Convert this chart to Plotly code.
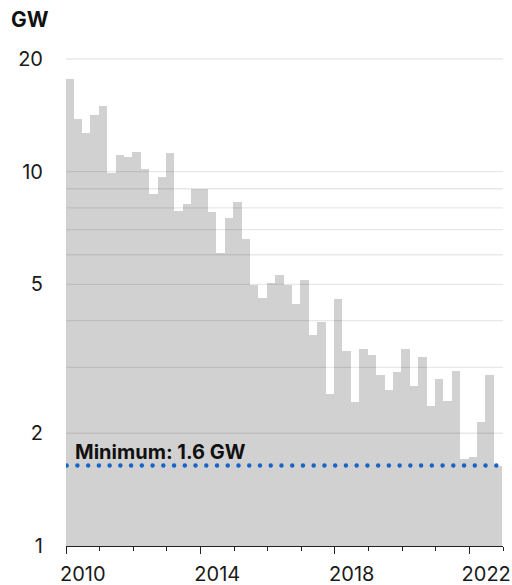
import numpy as np
import plotly.graph_objects as go

# Quarterly capacity, GW (log scale)
quarters = [f"{y} Q{q}" for y in range(2010, 2023) for q in range(1, 5)]
capacity_gw = [
    17.72, 13.83, 12.69, 14.21, 14.98, 9.90, 11.06, 10.93,
    11.27, 10.15, 8.74, 9.66, 11.22, 7.84, 8.22, 8.99,
    8.99, 7.79, 6.07, 7.54, 8.29, 6.61, 4.99, 4.60,
    5.03, 5.30, 4.97, 4.44, 5.15, 3.67, 3.96, 2.55,
    4.57, 3.32, 2.42, 3.36, 3.24, 2.86, 2.61, 2.92,
    3.36, 2.68, 3.20, 2.37, 2.80, 2.44, 2.94, 1.71,
    1.73, 2.15, 2.87, 1.64,
]
y_tick_vals = [1, 2, 5, 10, 20]
grid_vals = [2, 3, 4, 5, 6, 7, 8, 9, 10, 20]
year_labels = [2010, 2014, 2018, 2022]

FONT = "Inter"
BAR = "#d1d1d1"
BLUE = "#1763c6"
TXT = "#1a1a1a"

# numeric time position of each quarter's bar
def quarter_pos(label):
    yr, q = label.split(" Q")
    return int(yr) + (int(q) - 1) * 0.25 + 0.1

x_pos = [quarter_pos(q) for q in quarters]
min_val = min(capacity_gw)

fig = go.Figure()

fig.add_trace(go.Bar(
    x=x_pos, y=capacity_gw, width=0.25,
    marker=dict(color=BAR, line=dict(width=0)),
    hovertext=quarters, showlegend=False,
))

# horizontal guide lines drawn over the bars
gx, gy = [], []
for v in grid_vals:
    gx += [2010, 2023, None]
    gy += [v, v, None]
fig.add_trace(go.Scatter(
    x=gx, y=gy, mode="lines",
    line=dict(color="rgba(0,0,0,0.09)", width=1.4),
    hoverinfo="skip", showlegend=False,
))

# dotted minimum line
dot_x = np.linspace(2010.02, 2022.8, 41)
fig.add_trace(go.Scatter(
    x=dot_x, y=[min_val] * len(dot_x), mode="markers",
    marker=dict(color=BLUE, size=4.4, line=dict(width=0)),
    hoverinfo="skip", showlegend=False,
))

# year labels sit mid-year on an overlaid axis
fig.add_trace(go.Scatter(x=[2010, 2023], y=[1, 1], xaxis="x2", mode="none",
                         hoverinfo="skip", showlegend=False))

fig.add_annotation(
    x=2010.2, y=np.log10(min_val), xref="x", yref="y",
    text=f"<b>Minimum: {min_val:.1f} GW</b>", showarrow=False,
    xanchor="left", yanchor="bottom", yshift=0,
    font=dict(family=FONT, size=20, color="#111111"),
)
fig.add_annotation(
    x=-0.130, y=1.063, xref="paper", yref="paper",
    text="<b>GW</b>", showarrow=False, xanchor="left", yanchor="middle",
    font=dict(family=FONT, size=21, color="#111111"),
)

fig.update_layout(
    width=512, height=585,
    margin=dict(l=66, r=9, t=51, b=39),
    paper_bgcolor="white", plot_bgcolor="white",
    bargap=0,
    font=dict(family=FONT, size=20, color=TXT),
    xaxis=dict(
        range=[2010, 2023], showgrid=False, zeroline=False, automargin=False,
        tickmode="array", tickvals=year_labels, showticklabels=False,
        ticks="outside", ticklen=7, tickwidth=1.3, tickcolor="#222222",
        showline=True, linecolor="#222222", linewidth=1.3,
        minor=dict(dtick=1, tick0=2010, ticks="outside", ticklen=4,
                   tickwidth=1.3, tickcolor="#222222", showgrid=False),
    ),
    xaxis2=dict(
        overlaying="x", matches="x", side="bottom", anchor="y", automargin=False,
        range=[2010, 2023], showgrid=False, zeroline=False, showline=False,
        tickmode="array", tickvals=[y + 0.5 for y in year_labels],
        ticktext=[str(y) for y in year_labels], ticks="",
        ticklabelstandoff=14,
        tickfont=dict(family=FONT, size=20, color=TXT),
    ),
    yaxis=dict(
        type="log", range=[0, np.log10(21)], automargin=False,
        tickmode="array", tickvals=y_tick_vals,
        ticktext=[str(v) for v in y_tick_vals],
        showgrid=False, zeroline=False, showline=False, ticks="",
        ticklabelstandoff=22,
        tickfont=dict(family=FONT, size=20, color=TXT),
    ),
)

fig.write_html("out.html")
